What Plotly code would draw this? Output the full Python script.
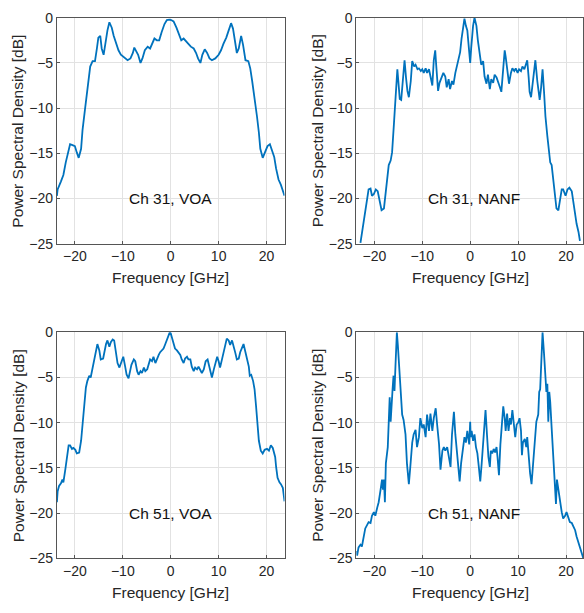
import plotly.graph_objects as go

# Power spectral density traces (frequency in GHz, PSD in dB)
freq_31_voa = [-23.75, -23.6, -22.9, -22.4, -21.9, -21.4, -21.0, -20.5, -20.0, -19.6,
               -19.2, -18.7, -18.4, -17.9, -17.5, -17.1, -16.8, -16.3, -15.8, -15.4,
               -15.1, -14.7, -14.4, -14.0, -13.7, -13.2, -12.8, -12.3, -11.9, -11.4,
               -10.9, -10.4, -9.7, -9.0, -8.4, -7.9, -7.6, -7.1, -6.8, -6.3,
               -5.9, -5.4, -4.8, -4.3, -3.9, -3.4, -2.9, -2.4, -1.9, -1.3,
               -0.8, -0.3, 0.1, 0.6, 1.2, 1.7, 2.2, 2.7, 3.2, 3.7,
               4.2, 4.8, 5.3, 5.7, 6.2, 6.6, 7.1, 7.6, 8.1, 8.6,
               9.3, 10.0, 10.5, 11.0, 11.6, 12.1, 12.6, 13.0, 13.4, 13.8,
               14.2, 14.7, 15.1, 15.6, 16.2, 16.6, 17.0, 17.5, 18.0, 18.4,
               18.7, 19.2, 19.7, 20.2, 20.7, 21.1, 21.6, 22.0, 22.5, 23.0,
               23.5, 23.75]
psd_31_voa = [-19.7, -19.0, -18.1, -17.4, -16.0, -14.9, -14.0, -14.1, -14.2, -14.9,
              -15.5, -14.5, -12.4, -10.2, -8.4, -6.6, -5.4, -4.8, -4.8, -3.4,
              -2.2, -2.0, -3.4, -4.1, -3.0, -1.4, -0.5, -1.1, -2.0, -2.9,
              -3.6, -4.1, -4.4, -4.7, -4.5, -3.9, -3.3, -3.9, -4.1, -5.0,
              -4.5, -3.6, -3.2, -3.4, -2.9, -2.3, -2.5, -2.5, -1.6, -0.7,
              -0.25, -0.2, -0.25, -0.4, -1.1, -1.8, -2.5, -2.3, -2.6, -2.9,
              -3.2, -3.4, -3.9, -4.5, -5.0, -4.1, -3.5, -3.9, -4.5, -4.7,
              -4.5, -4.1, -3.6, -2.9, -2.2, -1.4, -0.6, -1.2, -2.5, -3.9,
              -3.4, -2.0, -3.0, -4.7, -4.8, -5.6, -7.0, -8.8, -10.9, -12.7,
              -14.5, -15.5, -14.9, -14.2, -14.0, -14.7, -15.4, -16.7, -17.9, -18.5,
              -19.2, -19.7]

freq_31_nanf = [-22.9, -22.6, -22.2, -21.9, -21.5, -21.2, -20.8, -20.5, -20.1, -19.7,
                -19.3, -18.9, -18.5, -18.0, -17.7, -17.3, -17.0, -16.6, -16.3, -15.9,
                -15.6, -15.2, -15.0, -14.7, -14.4, -14.1, -13.7, -13.4, -13.1, -12.8,
                -12.4, -12.1, -11.7, -11.4, -11.0, -10.7, -10.3, -10.0, -9.7, -9.3,
                -9.0, -8.6, -8.3, -7.9, -7.6, -7.3, -7.1, -6.7, -6.4, -6.0,
                -5.6, -5.2, -4.9, -4.5, -4.2, -3.8, -3.5, -3.1, -2.8, -2.4,
                -2.1, -1.8, -1.5, -1.2, -0.9, -0.6, -0.2, 0.0, 0.2, 0.6,
                0.9, 1.3, 1.6, 2.0, 2.3, 2.7, 3.0, 3.4, 3.7, 4.1,
                4.4, 4.8, 5.1, 5.5, 5.8, 6.2, 6.5, 6.9, 7.2, 7.4,
                7.8, 8.1, 8.5, 8.8, 9.2, 9.5, 9.9, 10.2, 10.6, 10.9,
                11.3, 11.6, 11.9, 12.2, 12.4, 12.7, 13.1, 13.4, 13.6, 14.0,
                14.3, 14.5, 14.8, 15.1, 15.4, 15.7, 16.1, 16.4, 16.7, 17.0,
                17.3, 17.7, 18.0, 18.4, 18.7, 19.1, 19.4, 19.9, 20.3, 20.7,
                21.2, 21.5, 21.9, 22.2, 22.6, 22.9]
psd_31_nanf = [-24.9, -23.8, -22.6, -21.3, -19.9, -19.0, -18.9, -19.7, -19.5, -19.0,
               -19.2, -20.4, -21.3, -21.1, -19.5, -17.6, -16.3, -15.8, -14.9, -11.6,
               -9.1, -5.7, -7.0, -9.0, -9.1, -7.5, -4.7, -6.6, -8.1, -8.8,
               -7.0, -4.8, -5.4, -5.2, -5.7, -5.6, -5.9, -5.7, -6.1, -5.6,
               -6.1, -5.7, -6.5, -7.5, -4.7, -3.6, -5.2, -8.1, -7.2, -6.6,
               -6.1, -6.5, -7.7, -6.8, -7.9, -7.0, -7.4, -6.1, -5.4, -4.8,
               -3.8, -2.3, -0.9, -0.1, -0.9, -1.4, -3.8, -5.0, -3.4, -0.9,
               0.0, -0.9, -2.5, -3.8, -5.2, -4.8, -6.5, -7.3, -6.3, -7.9,
               -6.8, -7.2, -6.3, -6.6, -7.2, -7.7, -8.2, -5.0, -3.6, -4.3,
               -6.3, -7.3, -6.1, -5.6, -5.9, -5.6, -6.1, -5.7, -5.9, -5.4,
               -5.7, -5.2, -4.7, -6.6, -8.2, -8.8, -7.0, -5.2, -4.7, -7.0,
               -8.4, -9.1, -7.7, -5.7, -8.1, -10.9, -13.1, -14.9, -16.0, -16.3,
               -17.7, -19.5, -21.1, -21.3, -20.3, -19.0, -19.0, -19.7, -19.0, -18.8,
               -19.2, -20.3, -21.7, -22.8, -23.7, -24.7]

freq_51_voa = [-23.75, -23.6, -23.3, -22.9, -22.6, -22.4, -22.0, -21.7, -21.3, -21.0,
               -20.6, -20.3, -19.9, -19.6, -19.1, -18.7, -18.4, -18.0, -17.7, -17.4,
               -17.0, -16.7, -16.3, -16.0, -15.6, -15.3, -14.9, -14.6, -14.1, -13.9,
               -13.5, -13.2, -12.8, -12.5, -12.1, -11.8, -11.4, -11.1, -10.7, -10.4,
               -9.9, -9.5, -9.2, -8.8, -8.5, -8.2, -7.7, -7.4, -7.0, -6.7,
               -6.3, -6.0, -5.6, -5.3, -4.9, -4.6, -4.3, -3.9, -3.6, -3.2,
               -2.9, -2.5, -2.2, -1.8, -1.5, -1.2, -0.8, -0.5, -0.2, 0.0,
               0.2, 0.6, 0.9, 1.3, 1.6, 2.0, 2.3, 2.7, 3.0, 3.4,
               3.7, 4.1, 4.4, 4.8, 5.1, 5.5, 5.8, 6.2, 6.5, 6.9,
               7.3, 7.7, 8.1, 8.6, 9.0, 9.3, 9.7, 10.0, 10.3, 10.7,
               11.0, 11.4, 11.7, 12.1, 12.4, 12.8, 13.1, 13.5, 13.8, 14.2,
               14.5, 14.9, 15.2, 15.6, 15.9, 16.3, 16.5, 16.8, 17.2, 17.5,
               17.8, 18.1, 18.4, 18.8, 19.2, 19.6, 20.1, 20.5, 20.9, 21.3,
               21.8, 22.0, 22.3, 22.7, 23.0, 23.4, 23.75]
psd_51_voa = [-18.8, -17.6, -17.0, -16.7, -16.3, -16.6, -15.2, -14.2, -12.5, -12.5,
              -12.9, -12.8, -13.0, -13.4, -13.3, -12.0, -9.9, -7.9, -6.1, -5.4,
              -4.8, -5.0, -3.9, -2.9, -2.2, -1.3, -2.0, -3.0, -2.9, -2.2,
              -1.3, -0.9, -1.6, -1.1, -0.8, -0.9, -2.2, -3.4, -3.9, -3.4,
              -2.7, -3.8, -4.7, -5.1, -4.5, -3.6, -3.0, -3.2, -4.3, -4.7,
              -4.3, -4.5, -3.9, -4.3, -4.1, -3.6, -3.0, -3.2, -2.7, -3.4,
              -2.9, -2.5, -2.2, -2.0, -1.8, -1.4, -0.9, -0.4, 0.0, -0.1,
              -0.5, -1.3, -1.8, -2.0, -2.2, -2.5, -3.0, -3.4, -2.9, -2.7,
              -3.0, -3.0, -3.8, -4.3, -3.9, -4.1, -3.8, -4.3, -4.5, -4.1,
              -3.2, -3.0, -3.8, -5.0, -4.1, -3.4, -2.7, -3.2, -3.9, -3.0,
              -2.2, -1.3, -0.7, -0.9, -1.4, -0.9, -1.4, -2.3, -3.0, -2.9,
              -2.2, -1.6, -1.3, -2.2, -3.0, -3.8, -4.8, -4.7, -5.4, -6.3,
              -8.1, -10.2, -12.0, -13.1, -13.4, -13.0, -12.9, -13.1, -12.5, -12.8,
              -13.8, -14.9, -16.1, -16.6, -16.8, -17.2, -18.7]

freq_51_nanf = [-23.75, -23.6, -23.3, -22.9, -22.6, -22.2, -21.9, -21.5, -21.2, -20.8,
                -20.5, -20.1, -19.8, -19.4, -19.1, -18.7, -18.4, -18.2, -18.0, -17.8,
                -17.6, -17.2, -16.9, -16.8, -16.6, -16.4, -16.2, -16.0, -15.8, -15.6,
                -15.4, -15.3, -15.1, -14.8, -14.6, -14.2, -13.9, -13.5, -13.2, -12.8,
                -12.5, -12.1, -11.8, -11.4, -11.1, -10.7, -10.4, -10.0, -9.7, -9.3,
                -9.0, -8.6, -8.3, -7.9, -7.6, -7.2, -6.9, -6.5, -6.2, -5.8,
                -5.5, -5.2, -4.8, -4.5, -4.1, -3.8, -3.4, -3.1, -2.7, -2.4,
                -2.2, -1.9, -1.5, -1.2, -0.9, -0.6, -0.2, 0.0, 0.1, 0.3,
                0.6, 0.9, 1.2, 1.5, 1.8, 2.1, 2.4, 2.7, 3.0, 3.2,
                3.5, 3.8, 4.1, 4.3, 4.6, 4.9, 5.2, 5.5, 5.7, 6.0,
                6.3, 6.6, 6.9, 7.2, 7.4, 7.7, 8.0, 8.3, 8.5, 8.8,
                9.1, 9.4, 9.7, 10.0, 10.3, 10.6, 10.8, 11.0, 11.4, 11.7,
                11.9, 12.2, 12.5, 12.8, 13.1, 13.5, 13.8, 14.2, 14.4, 14.6,
                14.8, 15.1, 15.4, 15.7, 15.9, 16.1, 16.3, 16.5, 16.7, 17.0,
                17.3, 17.5, 17.7, 17.9, 18.1, 18.4, 18.7, 19.1, 19.4, 19.8,
                20.1, 20.5, 20.8, 21.2, 21.5, 21.9, 22.2, 22.6, 22.9, 23.3,
                23.6]
psd_51_nanf = [-24.2, -24.7, -23.8, -23.5, -23.7, -22.4, -21.7, -21.3, -21.0, -21.1,
               -20.3, -19.9, -20.3, -19.4, -18.8, -17.4, -16.3, -17.4, -16.3, -18.8,
               -14.5, -12.7, -9.0, -7.2, -9.9, -7.4, -6.3, -4.8, -6.5, -3.8,
               -1.6, 0.0, -1.4, -3.8, -6.6, -9.1, -9.7, -11.3, -14.5, -16.8,
               -14.9, -12.2, -11.3, -10.8, -12.7, -11.6, -9.5, -10.6, -10.2, -11.6,
               -9.1, -10.9, -9.0, -10.9, -9.5, -8.4, -10.2, -12.4, -15.2, -13.1,
               -12.7, -13.1, -12.7, -13.8, -14.9, -11.3, -8.8, -11.3, -13.8, -15.2,
               -16.5, -14.5, -12.7, -11.6, -12.2, -10.9, -12.4, -9.9, -11.6, -10.9,
               -12.0, -11.3, -12.7, -13.4, -14.9, -16.5, -14.5, -12.4, -9.9, -8.6,
               -11.3, -13.8, -14.9, -13.1, -13.4, -12.9, -13.3, -12.7, -13.8, -15.8,
               -12.4, -9.9, -8.2, -9.5, -10.9, -9.0, -10.9, -9.5, -10.2, -8.6,
               -10.2, -11.6, -10.2, -10.0, -9.5, -10.9, -13.6, -12.2, -11.8, -12.7,
               -11.6, -13.8, -15.6, -16.8, -14.5, -11.3, -9.9, -9.1, -6.6, -6.3,
               -3.0, 0.0, -2.3, -4.8, -6.6, -5.7, -9.9, -6.6, -7.7, -10.6,
               -13.1, -14.9, -16.3, -19.0, -16.3, -17.4, -18.8, -19.9, -20.6, -20.3,
               -19.9, -20.6, -21.0, -21.1, -21.5, -21.9, -22.6, -23.3, -23.8, -24.6,
               -25.0]

panel_labels = ["Ch 31, VOA", "Ch 31, NANF", "Ch 51, VOA", "Ch 51, NANF"]
x_ticks = [-20, -10, 0, 10, 20]
y_ticks = [0, -5, -10, -15, -20, -25]
x_title = "Frequency [GHz]"
y_title = "Power Spectral Density [dB]"

series = [(freq_31_voa, psd_31_voa), (freq_31_nanf, psd_31_nanf),
          (freq_51_voa, psd_51_voa), (freq_51_nanf, psd_51_nanf)]
for f, p in series:
    assert len(f) == len(p)

W, H = 584, 613
LINE = "#0072BD"
TXT = "#262626"
FONT = "Liberation Sans, Arial, Helvetica, sans-serif"

# pixel boxes of the four axes: (left, right, top, bottom)
boxes = [(57, 285, 10, 242), (357, 584, 10, 242),
         (57, 285, 333, 565), (357, 584, 333, 565)]
xranges = [[-23.75, 23.75], [-23.75, 23.54], [-23.75, 23.75], [-23.75, 23.54]]
label_x = [0, 0.85, 0, 0.85]

fig = go.Figure()
annotations = []
for i, ((f, p), (l, r, t, b)) in enumerate(zip(series, boxes)):
    n = "" if i == 0 else str(i + 1)
    fig.add_trace(go.Scatter(x=f, y=p, mode="lines", xaxis="x" + n, yaxis="y" + n,
                             line=dict(color=LINE, width=1.8), showlegend=False,
                             hoverinfo="skip"))
    common = dict(showgrid=True, gridcolor="#e2e2e2", gridwidth=1, zeroline=False,
                  showline=True, linecolor="#555555", linewidth=1, mirror=True,
                  ticks="inside", ticklen=3, tickcolor="#555555",
                  tickfont=dict(family=FONT, size=14, color=TXT))
    fig.layout["xaxis" + n] = dict(domain=[l / W, r / W], range=xranges[i],
                                   tickvals=x_ticks, anchor="y" + n, **common)
    fig.layout["yaxis" + n] = dict(domain=[1 - b / H, 1 - t / H], range=[-25, 0],
                                   tickvals=y_ticks, anchor="x" + n, **common)
    annotations.append(dict(x=label_x[i], y=-20, xref="x" + n, yref="y" + n,
                            text=panel_labels[i], showarrow=False,
                            xanchor="center", yanchor="middle",
                            font=dict(family=FONT, size=15.5, color="#111111")))
    cx = ((l + r) / 2 if i % 2 == 0 else 471)
    annotations.append(dict(x=cx / W, y=1 - (b + 35) / H, xref="paper", yref="paper",
                            text=x_title, showarrow=False, xanchor="center",
                            yanchor="middle",
                            font=dict(family=FONT, size=15.5, color=TXT)))
    annotations.append(dict(x=(l - 39) / W, y=1 - (t + b) / 2 / H, xref="paper",
                            yref="paper", text=y_title, showarrow=False,
                            textangle=-90, xanchor="center", yanchor="middle",
                            font=dict(family=FONT, size=15.5, color=TXT)))

fig.update_layout(width=W, height=H, margin=dict(l=0, r=0, t=0, b=0),
                  paper_bgcolor="white", plot_bgcolor="white",
                  annotations=annotations)

fig.write_html("out.html")
